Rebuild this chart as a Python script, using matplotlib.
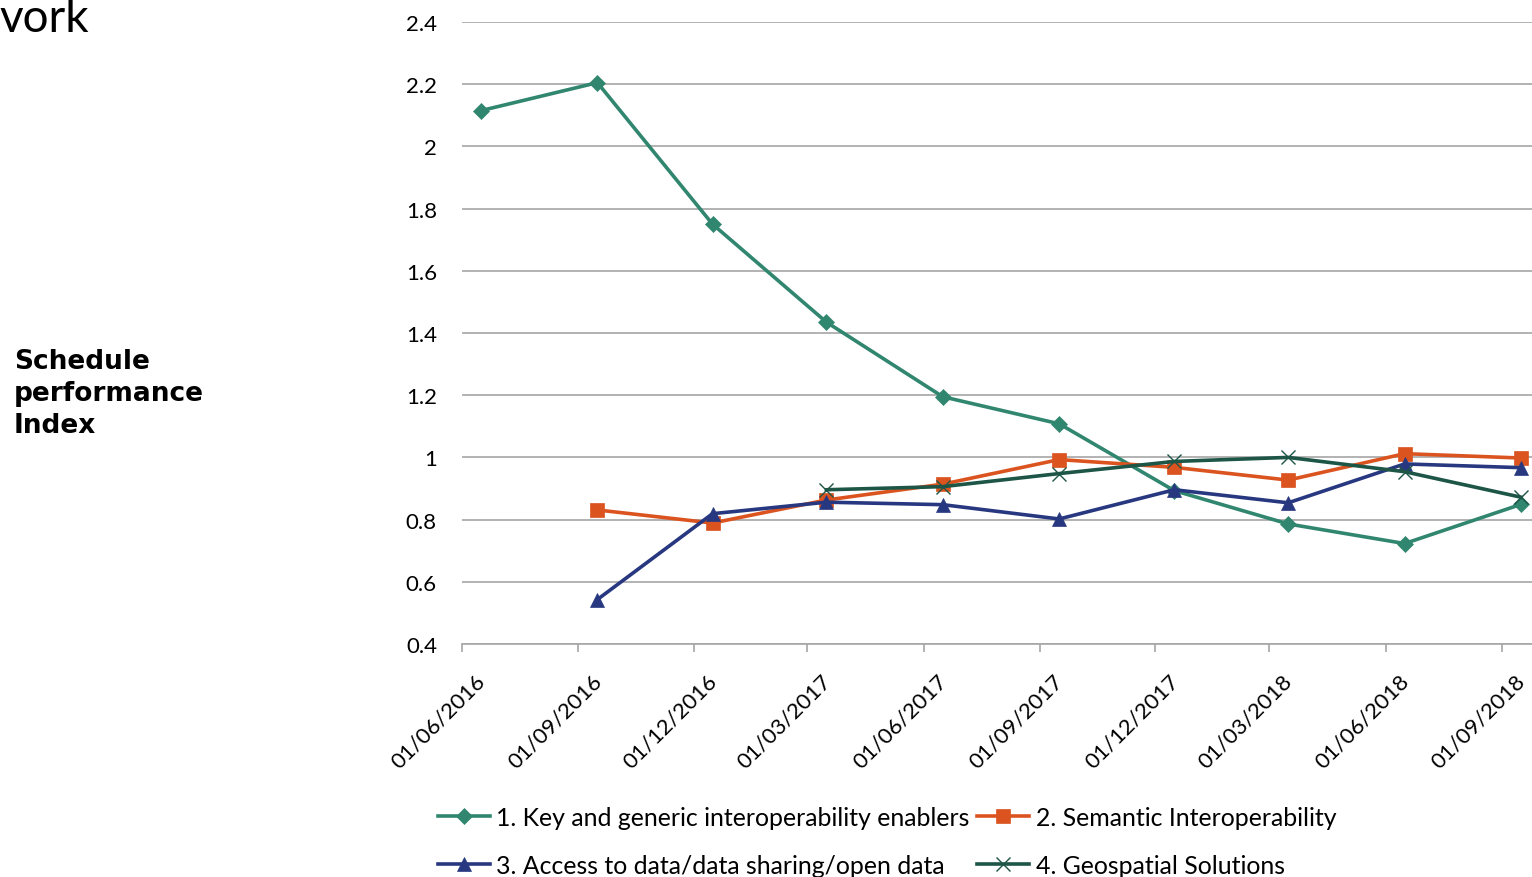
import matplotlib
matplotlib.use("Agg")
import matplotlib.pyplot as plt
from matplotlib.transforms import ScaledTranslation
import datetime as dt

# ---- data ----
dates = ["2016-06-16", "2016-09-16", "2016-12-16", "2017-03-16", "2017-06-16",
         "2017-09-16", "2017-12-16", "2018-03-16", "2018-06-16", "2018-09-16"]
tick_dates = ["2016-06-01", "2016-09-01", "2016-12-01", "2017-03-01", "2017-06-01",
              "2017-09-01", "2017-12-01", "2018-03-01", "2018-06-01", "2018-09-01"]
tick_labels = ["01/06/2016", "01/09/2016", "01/12/2016", "01/03/2017", "01/06/2017",
               "01/09/2017", "01/12/2017", "01/03/2018", "01/06/2018", "01/09/2018"]
key_enablers = [2.115, 2.205, 1.75, 1.435, 1.195, 1.108, 0.893, 0.786, 0.723, 0.849]
semantic = [None, 0.831, 0.789, 0.863, 0.914, 0.993, 0.968, 0.927, 1.012, 0.998]
access_data = [None, 0.543, 0.819, 0.856, 0.848, 0.802, 0.896, 0.854, 0.979, 0.967]
geospatial = [None, None, None, 0.896, 0.906, 0.948, 0.987, 1.0, 0.954, 0.872]
series_names = ["1. Key and generic interoperability enablers",
                "2. Semantic Interoperability",
                "3. Access to data/data sharing/open data",
                "4. Geospatial Solutions"]
y_ticks = [0.4, 0.6, 0.8, 1.0, 1.2, 1.4, 1.6, 1.8, 2.0, 2.2, 2.4]
y_tick_labels = ["0.4", "0.6", "0.8", "1", "1.2", "1.4", "1.6", "1.8", "2", "2.2", "2.4"]

to_d = lambda s: dt.datetime.strptime(s, "%Y-%m-%d")
x = [to_d(d) for d in dates]
xt = [to_d(d) for d in tick_dates]

def pts(vals):
    xs = [xi for xi, v in zip(x, vals) if v is not None]
    ys = [v for v in vals if v is not None]
    return xs, ys

W, H = 1532, 878
fig = plt.figure(figsize=(W / 100, H / 100), dpi=100)
ax = fig.add_axes([462 / W, (H - 645) / H, (1540 - 462) / W, (645 - 23) / H])

FONT = "Lato"
colors = ["#31866f", "#db5420", "#283880", "#1d5546"]
markers = ["D", "s", "^", "x"]
msizes = [8, 9.5, 10, 10]
handles = []
for i, vals in enumerate([key_enablers, semantic, access_data, geospatial]):
    xs, ys = pts(vals)
    h, = ax.plot(xs, ys, color=colors[i], lw=2.6, marker=markers[i], ms=msizes[i],
                 mfc=colors[i], mec=colors[i], mew=1.0 if markers[i] == "x" else 0.5,
                 label=series_names[i], zorder=3 + i, clip_on=False)
    handles.append(h)

ax.set_ylim(0.4, 2.4)
ax.set_xlim(to_d("2016-06-01"), to_d("2018-10-01"))
ax.set_yticks(y_ticks, y_tick_labels)
ax.set_xticks(xt, tick_labels)
ax.yaxis.grid(True, color="#a6a6a6", lw=1.2)
ax.set_axisbelow(True)
for s in ["top", "right", "left"]:
    ax.spines[s].set_visible(False)
ax.spines["bottom"].set_color("#a6a6a6")
ax.spines["bottom"].set_linewidth(1.2)
ax.tick_params(axis="y", length=0, pad=18, labelsize=16)
ax.tick_params(axis="x", length=6, width=1.2, color="#a6a6a6", direction="out", pad=18, labelsize=16)
for lab in ax.get_yticklabels():
    lab.set_fontfamily(FONT)
offset = ScaledTranslation(20 / 100, 0, fig.dpi_scale_trans)
for lab in ax.get_xticklabels():
    lab.set_fontfamily(FONT)
    lab.set_rotation(45)
    lab.set_ha("right")
    lab.set_va("center")
    lab.set_rotation_mode("anchor")
    lab.set_transform(lab.get_transform() + offset)

order = [0, 2, 1, 3]
leg = fig.legend([handles[i] for i in order], [series_names[i] for i in order],
                 loc="upper left", bbox_to_anchor=(438 / W, 1 - 807 / H), ncol=2,
                 frameon=False, borderpad=0, borderaxespad=0, handlelength=2.1,
                 handletextpad=0.25, columnspacing=0.3, labelspacing=1.0,
                 prop={"family": FONT, "size": 17.9})

fig.text(14 / W, 1 - 394 / H, "Schedule\nperformance\nIndex", ha="left", va="center",
         fontsize=19, fontweight="bold", family="DejaVu Sans", linespacing=1.29,
         transform=fig.transFigure)
fig.text(-1 / W, 1 - 32 / H, "vork", ha="left", va="baseline", fontsize=33,
         family=FONT)

fig.savefig("out.png", dpi=100)
